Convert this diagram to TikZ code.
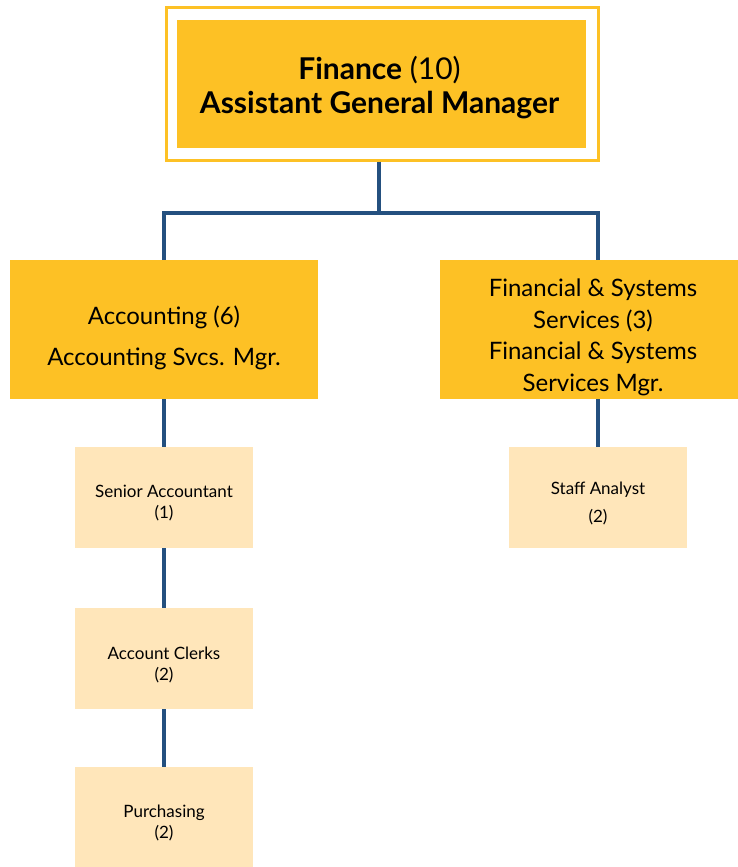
\documentclass[tikz,border=0pt]{standalone}
\usepackage{fontspec}
\setmainfont{Lato}
\usepackage{xcolor}
\usepackage{tikz}
\usetikzlibrary{positioning, calc}

\definecolor{gold}{HTML}{FDC125}
\definecolor{cream}{HTML}{FFE6BA}
\definecolor{navy}{HTML}{24507F}

\tikzset{
  headbox/.style={fill=gold, draw=none, inner sep=0pt},
  staffbox/.style={fill=cream, draw=none, inner sep=0pt,
    minimum width=178pt, minimum height=101pt},
  boxtext/.style={align=center, inner sep=0pt},
  stafftext/.style={boxtext, font=\fontsize{17}{21}\selectfont},
  link/.style={draw=navy, line width=4pt}
}

\begin{document}
\begin{tikzpicture}[x=1pt, y=-1pt]
  \useasboundingbox (0,0) rectangle (738,867);

  % top
  \node[draw=gold, fill=white, line width=3pt, minimum width=432pt,
    minimum height=152pt, inner sep=0pt] (agmframe) at (382,84) {};
  \node[headbox, minimum width=409pt, minimum height=128pt] (agm) at (381.5,84) {};
  \node[boxtext, font=\fontsize{30}{34}\selectfont] (agmtext) at ($(agm)+(-2,4)$)
    {\textbf{Finance} (10)\\\textbf{Assistant General Manager}};
  \coordinate (split) at (379,213);

  % managers
  \node[headbox, minimum width=308pt, minimum height=139pt] (acct) at (164,329.5) {};
  \node[boxtext, font=\fontsize{24}{41}\selectfont] (accttext) at ($(acct)+(0,8)$)
    {Accounting (6)\\Accounting Svcs. Mgr.};
  \node[headbox, minimum width=316pt, minimum height=139pt] (fss) at (598,329.5) {};
  \node[boxtext, font=\fontsize{24}{31.5}\selectfont] (fsstext) at ($(fss)+(-5,8)$)
    {Financial \& Systems\\Services (3)\\Financial \& Systems\\Services Mgr.};

  % staff
  \node[staffbox] (senior) at (164,497.5) {};
  \node[stafftext] (seniortext) at ($(senior)+(0,6)$) {Senior Accountant\\(1)};
  \node[staffbox] (clerks) at (164,658.5) {};
  \node[stafftext] (clerkstext) at ($(clerks)+(0,6)$) {Account Clerks\\(2)};
  \node[staffbox, minimum height=100pt] (purch) at (164,817) {};
  \node[stafftext] (purchtext) at ($(purch)+(0,6)$) {Purchasing\\(2)};
  \node[staffbox] (analyst) at (598,497.5) {};
  \node[stafftext, font=\fontsize{17}{28}\selectfont] (analysttext)
    at ($(analyst)+(0,6)$) {Staff Analyst\\(2)};

  % lines
  \draw[link] (split |- agmframe.south) -- (split) -| (acct.north);
  \draw[link] (split) -| (fss.north);
  \draw[link] (acct.south) -- (senior.north);
  \draw[link] (senior.south) -- (clerks.north);
  \draw[link] (clerks.south) -- (purch.north);
  \draw[link] (fss.south) -- (analyst.north);
\end{tikzpicture}
\end{document}
